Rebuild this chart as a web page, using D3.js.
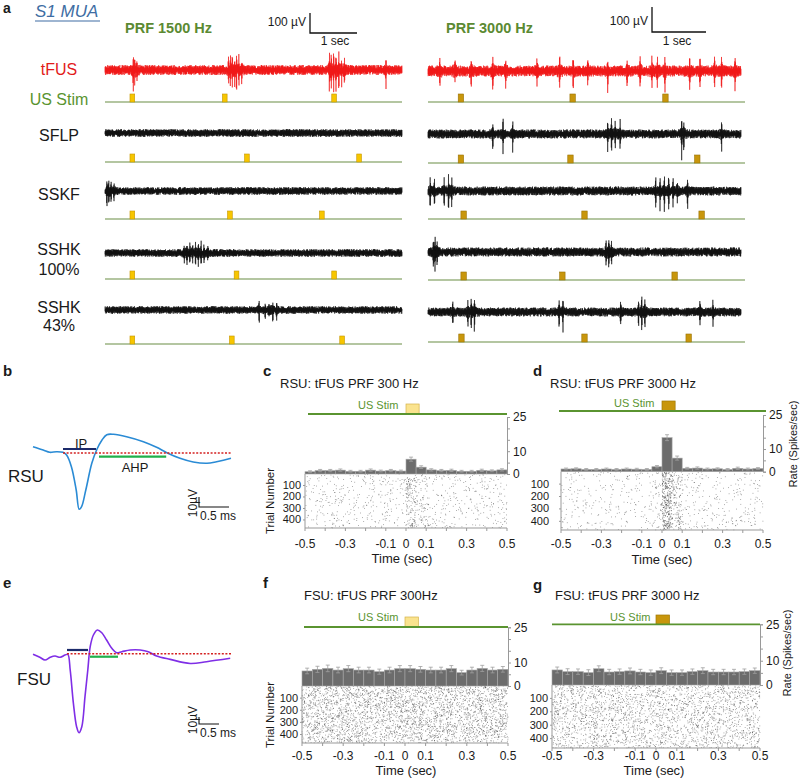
<!DOCTYPE html>
<html><head><meta charset="utf-8">
<script src="https://cdn.jsdelivr.net/npm/d3@7/dist/d3.min.js"></script>
<style>body{margin:0;background:#fff} svg{display:block;font-family:"Liberation Sans",Arial,sans-serif}</style>
</head><body><svg width="800" height="779"></svg>
<script>
// ---------------- DATA ----------------
const rowLabels = [["tFUS"], ["SFLP"], ["SSKF"], ["SSHK", "100%"], ["SSHK", "43%"]];
const prfTitles = ["PRF 1500 Hz", "PRF 3000 Hz"];
// stimulus onsets (s) for each trace row
const stimLeft  = [[0.53, 2.49, 4.81], [0.53, 2.96, 5.34], [0.53, 2.60, 4.55], [0.53, 2.74, 4.81], [0.53, 2.64, 4.98]];
const stimRight = [[0.56, 2.63, 4.35], [0.56, 2.59, 4.94], [0.61, 2.85, 5.02], [0.61, 2.44, 4.52], [0.57, 2.85, 4.78]];
// background noise amplitude (µV)
const noiseLeft  = [25, 19, 19, 19, 19];
const noiseRight = [22, 18, 18, 18, 18];
// spike events [time s, amplitude µV]
const spikesLeft = [
  [[0.60,95],[0.63,55],[0.68,40],[2.62,60],[2.66,100],[2.70,70],[2.75,55],[2.79,95],[2.84,75],[2.90,45],[4.76,110],[4.80,80],[4.85,130],[4.90,95],[4.96,110],[5.02,70],[5.08,55],[5.96,95]],
  [],
  [[0.04,60],[0.08,75],[0.13,50],[0.19,35]],
  [[1.68,35],[1.74,50],[1.80,60],[1.86,45],[1.92,65],[1.98,50],[2.04,55],[2.10,40],[2.18,30]],
  [[3.27,60],[3.40,40],[3.48,35],[3.56,45],[3.64,40]]
];
const spikesRight = [
  [[0.22,55],[0.50,50],[0.80,55],[1.20,60],[1.44,55],[2.02,45],[2.44,60],[2.69,60],[2.96,50],[3.33,65],[3.69,55],[3.93,70],[4.15,65],[4.25,55],[4.39,75],[4.85,60],[5.04,55],[5.31,60],[5.44,65],[5.69,70]],
  [[1.20,60],[1.39,70],[1.57,65],[3.33,50],[3.40,65],[3.47,55],[3.56,60],[4.70,85],[4.74,50],[5.44,60]],
  [[0.04,60],[0.12,45],[0.30,55],[0.38,75],[0.44,50],[4.22,50],[4.30,60],[4.38,70],[4.46,75],[4.54,60],[4.62,45],[4.81,60]],
  [[0.10,55],[0.13,75],[0.17,40],[3.30,45],[3.35,60],[3.40,40]],
  [[0.46,55],[0.74,50],[0.80,70],[0.86,65],[2.43,55],[2.50,70],[3.57,50],[3.90,55],[3.96,70],[4.02,60],[5.04,55],[5.28,50]]
];
// spike waveforms [ms, µV]
const rsuWave = [[0,6.3],[0.17,3],[0.28,0.7],[0.39,1.3],[0.5,0.7],[0.56,-2],[0.64,-13.7],[0.72,-37],[0.77,-56.3],[0.81,-53.7],[0.88,-37],[0.98,-10.3],[1.06,3],[1.15,13],[1.23,18.3],[1.34,18.7],[1.56,16.3],[1.84,11.3],[2.06,5.7],[2.23,0.3],[2.45,-5.3],[2.67,-9],[2.9,-10.3],[3.06,-8.7],[3.3,-5.3]];
const fsuWave = [[0,-0.9],[0.17,-5.1],[0.3,-9],[0.43,-5.1],[0.55,-3.3],[0.68,-5.1],[0.8,-1.9],[0.87,-0.9],[0.93,-23.3],[1.01,-70.9],[1.09,-104.3],[1.15,-112.9],[1.22,-104.3],[1.3,-61.4],[1.37,-23.3],[1.43,10],[1.51,26.7],[1.61,33.9],[1.72,30],[1.84,19.6],[1.97,7.7],[2.09,1.4],[2.22,2.9],[2.43,5.3],[2.68,5.3],[2.88,2.9],[3.09,-3.3],[3.43,-8.1],[3.93,-13.9],[4.34,-11.4],[4.93,-6.6]];
// annotation segments [ms start, ms end, µV]
const rsuIP = [0.5, 1.05, 4], rsuAHP = [1.1, 2.22, -3.7], rsuBase = [0.5, 3.32, 0];
const fsuIP = [0.85, 1.375, 5.3], fsuAHP = [1.425, 2.125, -4.3], fsuBase = [0.85, 4.98, 0];
// PSTH: 20 bins of 0.05 s from -0.5 to 0.5 s (spikes/sec)
const rateC = [1.0,1.5,1.5,1.7,1.2,1.2,1.7,1.3,1.5,1.3,6.5,3.0,1.8,1.5,1.6,1.2,1.2,1.6,1.4,1.8];
const errC  = [0.4,0.5,0.5,0.5,0.4,0.4,0.5,0.4,0.5,0.4,0.9,0.6,0.5,0.5,0.5,0.4,0.4,0.5,0.4,0.5];
const rateD = [1.2,1.3,1.0,1.0,1.2,1.0,1.2,1.1,1.0,2.2,15.0,6.0,1.5,1.6,1.2,1.3,1.0,1.5,1.2,1.4];
const errD  = [0.4,0.4,0.4,0.4,0.4,0.4,0.4,0.4,0.4,0.5,1.3,0.9,0.4,0.5,0.4,0.4,0.4,0.5,0.4,0.4];
const rateF = [6.4,7.1,7.5,6.8,7.4,6.8,6.8,6.1,6.8,7.4,7.4,7.1,6.8,6.8,7.4,5.7,6.8,7.5,6.8,7.1];
const errF  = [1.2,1.3,1.4,1.2,1.3,1.2,1.2,1.1,1.2,1.3,1.3,1.2,1.2,1.2,1.3,1.0,1.2,1.3,1.2,1.2];
const rateG = [6.2,5.5,5.5,5.1,6.7,5.35,5.5,5.8,5.35,5.1,5.9,5.1,5.1,5.5,5.9,5.35,5.35,5.35,5.5,5.9];
const errG  = [1.2,1.2,1.1,1.2,1.2,1.1,1.1,1.2,1.1,1.1,1.2,1.1,1.1,1.1,1.2,1.1,1.1,1.1,1.1,1.1];
const xTickLabels = [-0.5, -0.3, -0.1, 0, 0.1, 0.3, 0.5];
const rateTicks = [0, 10, 25];
const trialTicks = [100, 200, 300, 400];
const nTrials = 470;

// ---------------- DRAW ----------------
const svg = d3.select("svg");
function rng(seed){return function(){seed|=0;seed=seed+0x6D2B79F5|0;let t=Math.imul(seed^seed>>>15,1|seed);t=t+Math.imul(t^t>>>7,61|t)^t;return((t^t>>>14)>>>0)/4294967296;}}
const txt = (x,y,s,o={}) => {
  const t = svg.append("text").attr("x",x).attr("y",y).text(s)
    .attr("font-size",o.size||12).attr("fill",o.fill||"#1a1a1a");
  if(o.anchor) t.attr("text-anchor",o.anchor);
  if(o.weight) t.attr("font-weight",o.weight);
  if(o.style) t.attr("font-style",o.style);
  if(o.rotate) t.attr("transform",`rotate(-90,${x},${y})`);
  return t;
};

// panel a
txt(3,13,"a",{size:14,weight:"bold"});
txt(35,17,"S1 MUA",{size:17,style:"italic",fill:"#3e6da3"});
svg.append("line").attr("x1",35).attr("x2",100).attr("y1",21).attr("y2",21).attr("stroke","#3e6da3").attr("stroke-width",1.2);

const green = "#5a9430";
const sides = [
  {x0:105,x1:402,lx1:402,T:6.3,ppu:0.2,traceY:[70,133,191,253,310],lineY:[102,162,219,279,344],
   stims:stimLeft,spikes:spikesLeft,noise:noiseLeft,fill:"#f7c600",stroke:"#c69600",
   title:[125,33],bar:{x:310,y0:13,y1:33,x1:357,lab:[306,26],sec:[335,45]}},
  {x0:428,x1:741,lx1:745,T:5.8,ppu:0.25,traceY:[71,134,191,252,312],lineY:[102,163,219,280,342],
   stims:stimRight,spikes:spikesRight,noise:noiseRight,fill:"#c8960c",stroke:"#9a7205",
   title:[446,33],bar:{x:652,y0:7,y1:32,x1:706,lab:[648,25],sec:[677,45]}}
];
sides.forEach((s,si)=>{
  txt(s.title[0],s.title[1],prfTitles[si],{size:14.5,weight:"bold",fill:"#5b8a32"});
  const b=s.bar;
  svg.append("path").attr("d",`M${b.x},${b.y0}V${b.y1}H${b.x1}`).attr("fill","none").attr("stroke","#111").attr("stroke-width",1.3);
  txt(b.lab[0],b.lab[1],"100 µV",{size:12,anchor:"end"});
  txt(b.sec[0],b.sec[1],"1 sec",{size:12,anchor:"middle"});
  const x = d3.scaleLinear().domain([0,s.T]).range([s.x0,s.x1]);
  s.traceY.forEach((cy,ri)=>{
    const y = d3.scaleLinear().domain([-100,100]).range([cy+100*s.ppu, cy-100*s.ppu]);
    const r = rng(1000+si*100+ri);
    const N = Math.round((s.x1-s.x0)*6);
    const sp = s.spikes[ri];
    const pts=[];
    for(let k=0;k<=N;k++){
      const t = k/N*s.T;
      let env=1, v=0;
      const alt = (k%2? 0.7 : -1);
      sp.forEach(([ts,A])=>{
        const d=t-ts;
        env += 0.35*Math.exp(-((d/0.04)**2));
        v += alt*A*Math.exp(-((d/0.006)**2))*(0.7+0.3*r());
      });
      v += (k%2?1:-1)*s.noise[ri]*(0.25+0.75*r())*Math.min(env,1.6);
      pts.push([t,v]);
    }
    svg.append("path").attr("d",d3.line().x(d=>x(d[0])).y(d=>y(d[1]))(pts))
      .attr("fill","none").attr("stroke",ri===0?"#f01818":"#111").attr("stroke-width",0.6);
    const ly = s.lineY[ri];
    svg.append("line").attr("x1",s.x0).attr("x2",s.lx1).attr("y1",ly).attr("y2",ly).attr("stroke","#6b8e45").attr("stroke-width",1.2);
    s.stims[ri].forEach(t0=>{
      svg.append("rect").attr("x",x(t0)).attr("y",ly-8).attr("width",x(t0+0.1)-x(t0)).attr("height",8)
        .attr("fill",s.fill).attr("stroke",s.stroke).attr("stroke-width",0.6);
    });
  });
});
// row labels
const rowLabY = [[75],[141],[200],[255,275],[313,331]];
rowLabels.forEach((ls,i)=>ls.forEach((l,j)=>txt(59,rowLabY[i][j],l,{size:16,anchor:"middle",fill:i===0?"#e21b1b":"#1a1a1a"})));
txt(59,105,"US Stim",{size:16,anchor:"middle",fill:green});

// panels b, e: waveforms
function wave(cfg){
  const x=d3.scaleLinear().domain([0,1]).range([cfg.x0,cfg.x0+cfg.pxms]);
  const y=d3.scaleLinear().domain([0,1]).range([cfg.base,cfg.base-cfg.pxuv]);
  svg.append("path").attr("d",d3.line().x(d=>x(d[0])).y(d=>y(d[1])).curve(d3.curveCatmullRom.alpha(0.5))(cfg.data))
    .attr("fill","none").attr("stroke",cfg.color).attr("stroke-width",1.6);
  svg.append("line").attr("x1",x(cfg.basel[0])).attr("x2",x(cfg.basel[1])).attr("y1",y(0)).attr("y2",y(0))
    .attr("stroke","#d42020").attr("stroke-width",1.6).attr("stroke-dasharray","2,1.6");
  svg.append("line").attr("x1",x(cfg.ip[0])).attr("x2",x(cfg.ip[1])).attr("y1",y(cfg.ip[2])).attr("y2",y(cfg.ip[2]))
    .attr("stroke","#1c2b6b").attr("stroke-width",2.2);
  svg.append("line").attr("x1",x(cfg.ahp[0])).attr("x2",x(cfg.ahp[1])).attr("y1",y(cfg.ahp[2])).attr("y2",y(cfg.ahp[2]))
    .attr("stroke","#20b04a").attr("stroke-width",2.2);
  const sx=cfg.sb[0], sy=cfg.sb[1];
  svg.append("path").attr("d",`M${sx},${sy-10*cfg.pxuv}V${sy}H${sx+0.5*cfg.pxms}`).attr("fill","none").attr("stroke","#111").attr("stroke-width",1.1);
  txt(sx+1,sy+13,"0.5 ms",{size:12});
  txt(sx-2,sy-4,"10µV",{size:12,anchor:"middle",rotate:true});
}
txt(3,376,"b",{size:15,weight:"bold"});
wave({x0:33,pxms:60,base:453,pxuv:1,data:rsuWave,color:"#2a8bd5",basel:rsuBase,ip:rsuIP,ahp:rsuAHP,sb:[199,507]});
txt(75,448,"IP",{size:13});
txt(135,472,"AHP",{size:13,anchor:"middle"});
txt(8,482,"RSU",{size:17});
txt(3,588,"e",{size:15,weight:"bold"});
wave({x0:33,pxms:40,base:653.7,pxuv:0.7,data:fsuWave,color:"#7f2ee6",basel:fsuBase,ip:fsuIP,ahp:fsuAHP,sb:[199,724]});
txt(17,685,"FSU",{size:17});

// PSTH panels
const panels = [
  {lab:"c",labXY:[263,376],title:"RSU: tFUS PRF 300 Hz",titleXY:[280,388],rates:rateC,errs:errC,x0:305,x1:507,stimY:414,lx0:308,lx1:507,boxTop:404,
   fill:"#fae38e",stroke:"#d4b24a",us:[358,409],yTop:417,yZero:474,rBot:528,tickY:548,timeXY:[402,563],yLabEnd:301,trial:[270,501],rate:null,seed:11},
  {lab:"d",labXY:[533,376],title:"RSU: tFUS PRF 3000 Hz",titleXY:[550,388],rates:rateD,errs:errD,x0:561,x1:763,stimY:411,lx0:559,lx1:766,boxTop:401,
   fill:"#c8960c",stroke:"#a07805",us:[614,407],yTop:415,yZero:471.7,rBot:530,tickY:548,timeXY:[662,564],yLabEnd:549,trial:null,rate:[793,444],seed:12},
  {lab:"f",labXY:[263,588],title:"FSU: tFUS PRF 300Hz",titleXY:[304,600],rates:rateF,errs:errF,x0:302,x1:508,stimY:627,lx0:304,lx1:508,boxTop:617,
   fill:"#fae38e",stroke:"#d4b24a",us:[358,621],yTop:627.3,yZero:686,rBot:743,tickY:760,timeXY:[406,775],yLabEnd:298,trial:[270,715],rate:null,seed:13},
  {lab:"g",labXY:[533,590],title:"FSU: tFUS PRF 3000 Hz",titleXY:[555,600],rates:rateG,errs:errG,x0:552,x1:760,stimY:624.3,lx0:552,lx1:760,boxTop:615,
   fill:"#c8960c",stroke:"#a07805",us:[610,621],yTop:624.3,yZero:685,rBot:748,tickY:760,timeXY:[654,775],yLabEnd:548,trial:null,rate:[787,653],seed:14}
];
panels.forEach(p=>{
  txt(p.labXY[0],p.labXY[1],p.lab,{size:15,weight:"bold"});
  txt(p.titleXY[0],p.titleXY[1],p.title,{size:13});
  const x=d3.scaleLinear().domain([-0.5,0.5]).range([p.x0,p.x1]);
  const y=d3.scaleLinear().domain([0,25]).range([p.yZero,p.yTop]);
  const ty=d3.scaleLinear().domain([0,nTrials]).range([p.yZero,p.rBot]);
  svg.append("rect").attr("x",x(0)).attr("y",p.boxTop).attr("width",x(0.065)-x(0)).attr("height",p.stimY-p.boxTop)
    .attr("fill",p.fill).attr("stroke",p.stroke).attr("stroke-width",0.7);
  svg.append("line").attr("x1",p.lx0).attr("x2",p.lx1).attr("y1",p.stimY).attr("y2",p.stimY).attr("stroke",green).attr("stroke-width",1.8);
  txt(p.us[0],p.us[1],"US Stim",{size:11,fill:green});
  const r=rng(p.seed*7919);
  const g=svg.append("g");
  p.rates.forEach((rt,i)=>{
    const n=Math.round(rt*0.05*nTrials);
    const t0=-0.5+i*0.05;
    for(let k=0;k<n;k++){
      g.append("rect").attr("x",x(t0+r()*0.05)-0.4).attr("y",ty(r()*nTrials)-0.4).attr("width",0.8).attr("height",0.8).attr("fill","#333").attr("opacity",0.6);
    }
  });
  p.rates.forEach((rt,i)=>{
    const t0=-0.5+i*0.05;
    svg.append("rect").attr("x",x(t0)).attr("y",y(rt)).attr("width",x(t0+0.05)-x(t0)).attr("height",y(0)-y(rt))
      .attr("fill","#6c6c6c").attr("stroke","#a8a8a8").attr("stroke-width",0.6);
    const xc=x(t0+0.025), e=p.errs[i];
    svg.append("path").attr("d",`M${xc},${y(rt-e)}V${y(rt+e)}M${xc-2},${y(rt+e)}H${xc+2}M${xc-2},${y(rt-e)}H${xc+2}`)
      .attr("stroke","#a0a0a0").attr("stroke-width",0.8).attr("fill","none");
  });
  const ra=svg.append("g").attr("transform",`translate(${p.x1},0)`)
    .call(d3.axisRight(y).tickValues([0,5,10,15,20,25]).tickSize(3).tickFormat(d=>rateTicks.includes(d)?d:""));
  ra.select(".domain").attr("stroke","#999");
  ra.selectAll(".tick line").attr("stroke","#999");
  ra.selectAll("text").attr("font-size",12).attr("fill","#1a1a1a").attr("font-family",null).attr("x",6);
  svg.append("line").attr("x1",p.x0).attr("x2",p.x0).attr("y1",p.yZero).attr("y2",p.rBot).attr("stroke","#999");
  trialTicks.forEach(v=>{
    svg.append("line").attr("x1",p.x0-2).attr("x2",p.x0).attr("y1",ty(v)).attr("y2",ty(v)).attr("stroke","#999");
    txt(p.yLabEnd,ty(v)+3.5,v,{size:11,anchor:"end"});
  });
  svg.append("line").attr("x1",p.x0).attr("x2",p.x1).attr("y1",p.rBot).attr("y2",p.rBot).attr("stroke","#999");
  d3.range(-5,6).forEach(k=>{
    const v=k/10;
    svg.append("line").attr("x1",x(v)).attr("x2",x(v)).attr("y1",p.rBot).attr("y2",p.rBot+3).attr("stroke","#999");
  });
  xTickLabels.forEach(v=>txt(x(v),p.tickY,String(v),{size:12,anchor:"middle"}));
  txt(p.timeXY[0],p.timeXY[1],"Time (sec)",{size:13,anchor:"middle"});
  if(p.trial) txt(p.trial[0]+4,p.trial[1],"Trial Number",{size:11.5,anchor:"middle",rotate:true});
  if(p.rate) txt(p.rate[0]+4,p.rate[1],"Rate (Spikes/sec)",{size:11,anchor:"middle",rotate:true});
});
</script></body></html>
